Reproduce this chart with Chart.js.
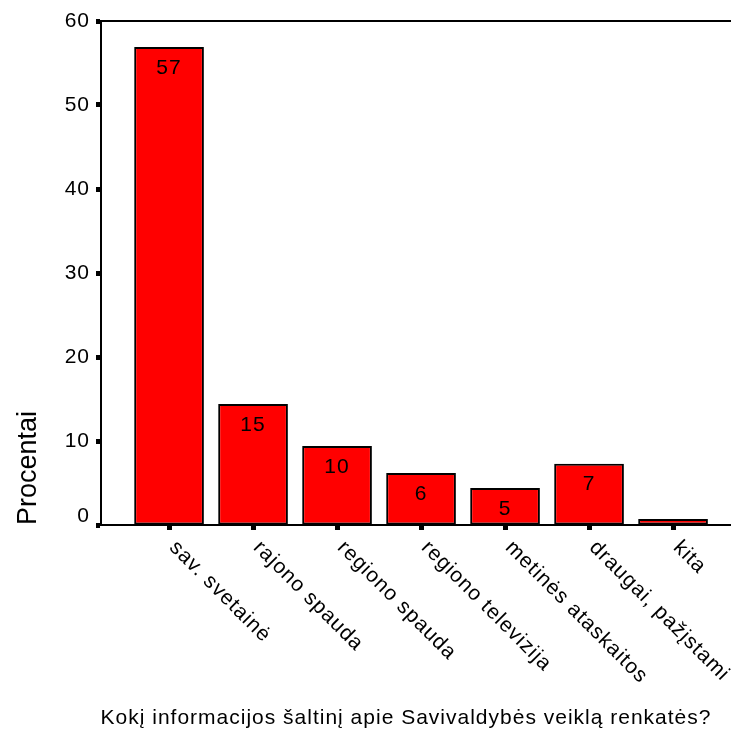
<!DOCTYPE html>
<html lang="lt">
<head>
<meta charset="UTF-8">
<title>Kokį informacijos šaltinį apie Savivaldybės veiklą renkatės?</title>
<script src="https://cdn.jsdelivr.net/npm/chart.js"></script>
<style>
  html, body { margin: 0; padding: 0; background: #fff; }
  #wrap { width: 731px; height: 731px; }
</style>
</head>
<body>
<div id="wrap"><canvas id="mainChart" width="731" height="731"></canvas></div>
<script>
// duomenys
const categories = ['sav. svetainė', 'rajono spauda', 'regiono spauda', 'regiono televizija',
                    'metinės ataskaitos', 'draugai, pažįstami', 'kita'];
const percents = [56.9, 14.4, 9.4, 6.2, 4.4, 7.3, 0.7];
const barLabels = ['57', '15', '10', '6', '5', '7', ''];
const yTicks = [0, 10, 20, 30, 40, 50, 60];
const xTitle = 'Kokį informacijos šaltinį apie Savivaldybės veiklą renkatės?';
const yTitle = 'Procentai';

const FONT = '"Liberation Sans", Arial, sans-serif';

// papildomi piešiniai: viršutinė linija, reikšmės, ašių užrašai, x ašies antraštė
const extras = {
    id: 'extras',
    afterDatasetsDraw(chart) {
        const ctx = chart.ctx;
        const meta = chart.getDatasetMeta(0);
        ctx.save();
        ctx.font = '21px ' + FONT;
        ctx.letterSpacing = '1px';
        ctx.fillStyle = '#000';
        ctx.textAlign = 'center';
        ctx.textBaseline = 'middle';
        meta.data.forEach((bar, i) => {
            if (barLabels[i]) ctx.fillText(barLabels[i], bar.x, bar.y + 21);
        });
        ctx.restore();
    },
    afterDraw(chart) {
        const ctx = chart.ctx;
        const area = chart.chartArea;
        const xs = chart.scales.x;
        const ys = chart.scales.y;
        ctx.save();
        ctx.strokeStyle = '#000';
        ctx.lineWidth = 2;
        ctx.beginPath();
        ctx.moveTo(area.left, area.top);
        ctx.lineTo(area.right, area.top);
        ctx.stroke();

        ctx.fillStyle = '#000';
        ctx.font = '21px ' + FONT;
        ctx.letterSpacing = '1px';

        // y ašies skaičiai (nulis pakeltas kaip SPSS)
        ctx.textAlign = 'right';
        ctx.textBaseline = 'middle';
        yTicks.forEach(v => {
            const y = ys.getPixelForValue(v) - (v === 0 ? 9 : 0);
            ctx.fillText(String(v), area.left - 11, y);
        });

        // kategorijų pavadinimai, pasukti 45°
        ctx.textAlign = 'left';
        ctx.textBaseline = 'top';
        categories.forEach((c, i) => {
            const x = xs.getPixelForValue(i);
            ctx.save();
            ctx.translate(x + 11, area.bottom + 12);
            ctx.rotate(Math.PI / 4);
            ctx.fillText(c, 0, 0);
            ctx.restore();
        });

        ctx.textAlign = 'center';
        ctx.textBaseline = 'middle';
        ctx.fillText(xTitle, (area.left + area.right) / 2 - 10, 718);
        ctx.restore();
    }
};

const ctx = document.getElementById('mainChart').getContext('2d');
new Chart(ctx, {
    type: 'bar',
    data: {
        datasets: [{
            data: percents.map((v, i) => ({ x: i, y: v })),
            backgroundColor: '#ff0000',
            borderColor: '#000',
            borderWidth: 2,
            borderSkipped: false,
            categoryPercentage: 1,
            barPercentage: 0.83
        }]
    },
    options: {
        responsive: false,
        animation: false,
        layout: { padding: { top: 21, right: 0, left: 0, bottom: 0 } },
        plugins: {
            legend: { display: false },
            tooltip: { enabled: false }
        },
        scales: {
            x: {
                type: 'linear',
                min: -0.81,
                max: 6.69,
                offset: false,
                afterFit: s => { s.height = 206; },
                border: { display: true, color: '#000', width: 2 },
                grid: { offset: false, drawOnChartArea: false, drawTicks: true, tickLength: 5, tickWidth: 5, tickColor: '#000' },
                ticks: { display: false, stepSize: 1, includeBounds: false }
            },
            y: {
                min: 0,
                max: 60,
                afterFit: s => { s.width = 101; },
                afterBuildTicks: s => { s.ticks = yTicks.map(v => ({ value: v })); },
                border: { display: true, color: '#000', width: 2 },
                grid: { drawOnChartArea: false, drawTicks: true, tickLength: 5, tickWidth: 5, tickColor: '#000' },
                ticks: { display: false },
                title: {
                    display: true,
                    text: yTitle,
                    align: 'start',
                    color: '#000',
                    font: { family: FONT, size: 27 },
                    padding: { top: 12, bottom: 0 }
                }
            }
        }
    },
    plugins: [extras]
});
</script>
</body>
</html>
